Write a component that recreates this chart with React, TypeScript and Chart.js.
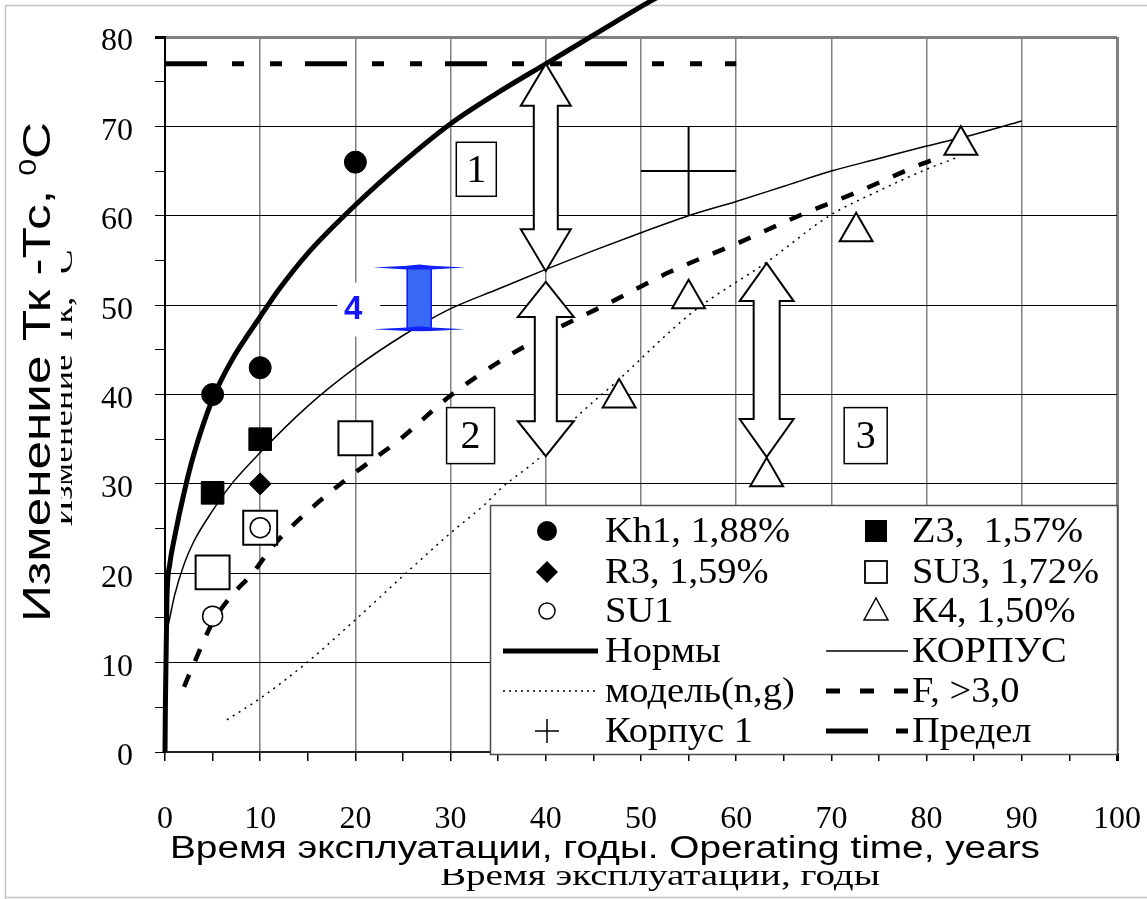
import React, { useEffect, useRef } from 'react';
import { Chart, registerables } from 'chart.js';

Chart.register(...registerables);

const SERIF = '"Liberation Serif", "Times New Roman", serif';
const SANS = '"Liberation Sans", Arial, sans-serif';

// ---- measured points ----
const kh1Years = [5, 10, 20];
const kh1Values = [40, 43, 66];
const z3Years = [5, 10];
const z3Values = [29, 35];
const r3Years = [10];
const r3Values = [30];
const su1Years = [5, 10];
const su1Values = [15.2, 25.1];
const su3Years = [5, 10, 20];
const su3Values = [20.1, 25.1, 35.1];
const k4Years = [47.7, 55, 63.2, 72.6, 83.6];
const k4Values = [39.6, 50.7, 30.8, 58.2, 67.9];

// ---- curves ----
const normYears = [0, 0.05, 0.2, 0.5, 1, 2, 3, 5, 7, 10, 12, 15, 20, 25, 30, 35, 40, 45, 50, 52];
const normValues = [0, 6, 17, 21, 24, 29, 33.2, 39.5, 43.8, 48.7, 51.8, 55.8, 61.2, 66, 70.3, 73.8, 77, 80.2, 83.4, 84.6];

const korpusYears = [0.3, 0.5, 1, 2, 3, 5, 7, 10, 15, 20, 25, 30, 35, 40, 45, 50, 55, 60, 65, 70, 75, 80, 85, 90];
const korpusValues = [14, 15, 17.5, 21, 23.5, 27, 30, 33.5, 38.7, 43, 46.6, 49.6, 51.8, 54, 56.1, 58.1, 60, 61.6, 63.3, 65, 66.4, 67.8, 69.1, 70.6];

const fYears = [2, 3, 5, 7, 9.2, 11.3, 15.2, 19.4, 22.2, 24.7, 29.9, 35.9, 39.7, 41.4, 46.4, 53, 60.3, 66.6, 72.6, 79.5, 81];
const fValues = [7.3, 9.8, 14.5, 17.5, 20, 23, 27.1, 30.8, 33, 35, 39.8, 44.2, 46.5, 47.5, 50.1, 53.7, 57, 60, 62.6, 65.8, 66.4];

const modelYears = [6.5, 10, 14.9, 20, 25.4, 30, 33.8, 35.2, 39.7, 42.2, 47.7, 55.4, 63.2, 69.8, 75, 80, 83.4];
const modelValues = [3.6, 6, 10, 14.8, 20.1, 24.5, 27.9, 29.4, 33.3, 36.4, 41.7, 49.2, 54.8, 60, 62.8, 65.2, 66.6];

const limitYears = [0, 60];
const limitValues = [77, 77];

const korpus1Years = [55];
const korpus1Values = [65];
const korpus1Spread = [5];

// ---- annotations (data coordinates) ----
const arrowYears = [40, 40, 63.2];
const arrowTops = [77, 52.6, 54.7];
const arrowBottoms = [53.8, 33.1, 33.0];

const rangeYear = [26.7];
const rangeTop = [54.2];
const rangeBottom = [47.3];

const boxLabels = ['1', '2', '3'];
const boxYears = [32.7, 32.1, 73.6];
const boxValues = [65.2, 35.4, 35.4];

const xTicks = [0, 10, 20, 30, 40, 50, 60, 70, 80, 90, 100];
const yTicks = [0, 10, 20, 30, 40, 50, 60, 70, 80];

const xy = (xs: number[], ys: number[]) => xs.map((x, i) => ({ x, y: ys[i] }));

function drawArrow(ctx: CanvasRenderingContext2D, x: number, yTop: number, yBot: number, shaftHalf: number, headHalf: number, headLen: number) {
  ctx.save();
  ctx.beginPath();
  ctx.moveTo(x, yTop);
  ctx.lineTo(x + headHalf, yTop + headLen);
  ctx.lineTo(x + shaftHalf, yTop + headLen);
  ctx.lineTo(x + shaftHalf, yBot - headLen);
  ctx.lineTo(x + headHalf, yBot - headLen);
  ctx.lineTo(x, yBot);
  ctx.lineTo(x - headHalf, yBot - headLen);
  ctx.lineTo(x - shaftHalf, yBot - headLen);
  ctx.lineTo(x - shaftHalf, yTop + headLen);
  ctx.lineTo(x - headHalf, yTop + headLen);
  ctx.closePath();
  ctx.fillStyle = '#fff';
  ctx.fill();
  ctx.lineWidth = 2;
  ctx.lineJoin = 'miter';
  ctx.strokeStyle = '#000';
  ctx.stroke();
  ctx.restore();
}

function fitText(ctx: CanvasRenderingContext2D, text: string, cx: number, baseline: number, font: string, width: number) {
  ctx.save();
  ctx.font = font;
  const w = ctx.measureText(text).width;
  ctx.translate(cx, baseline);
  ctx.scale(width / w, 1);
  ctx.textAlign = 'center';
  ctx.textBaseline = 'alphabetic';
  ctx.fillStyle = '#000';
  ctx.fillText(text, 0, 0);
  ctx.restore();
}

function drawStretched(ctx: CanvasRenderingContext2D, text: string, x: number, y: number, font: string, sx: number) {
  ctx.save();
  ctx.font = font;
  ctx.translate(x, y);
  ctx.scale(sx, 1);
  ctx.textAlign = 'left';
  ctx.textBaseline = 'middle';
  ctx.fillStyle = '#000';
  ctx.fillText(text, 0, 0);
  ctx.restore();
}

const decor = {
  id: 'decor',
  beforeDraw(chart: any) {
    const ctx: CanvasRenderingContext2D = chart.ctx;
    ctx.save();
    // outer frame
    ctx.strokeStyle = '#c4c4c4';
    ctx.lineWidth = 1.5;
    ctx.beginPath();
    ctx.moveTo(5.5, 899);
    ctx.lineTo(5.5, 5.5);
    ctx.lineTo(1147, 5.5);
    ctx.moveTo(5.5, 897.5);
    ctx.lineTo(1147, 897.5);
    ctx.stroke();

    // ghost x title
    fitText(ctx, 'Время эксплуатации, годы', 660, 885, `30px ${SERIF}`, 440);
    ctx.fillStyle = '#fff';
    ctx.fillRect(160, 830, 890, 39);
    fitText(ctx, 'Время эксплуатации, годы. Operating time, years', 605, 858, `31px ${SANS}`, 870);

    // ghost y title
    ctx.save();
    ctx.translate(72, 388);
    ctx.rotate(-Math.PI / 2);
    ctx.font = `30px ${SERIF}`;
    const g = 'Изменение Тк, ⁰С';
    const gw = ctx.measureText(g).width;
    ctx.scale(277 / gw, 1);
    ctx.textAlign = 'center';
    ctx.fillStyle = '#000';
    ctx.fillText(g, 0, 0);
    ctx.restore();
    ctx.fillStyle = '#fff';
    ctx.fillRect(8, 110, 53, 525);

    // main y title with superscript
    ctx.save();
    ctx.translate(50, 372);
    ctx.rotate(-Math.PI / 2);
    const parts = [
      { t: 'Изменение Тк -Тс, ', f: `39px ${SANS}`, dy: 0 },
      { t: '0', f: `23px ${SANS}`, dy: -14 },
      { t: 'С', f: `39px ${SANS}`, dy: 0 },
    ];
    let total = 0;
    const widths = parts.map((p) => {
      ctx.font = p.f;
      const w = ctx.measureText(p.t).width;
      total += w;
      return w;
    });
    ctx.scale(500 / total, 1);
    let cur = -total / 2;
    ctx.fillStyle = '#000';
    ctx.textAlign = 'left';
    parts.forEach((p, i) => {
      ctx.font = p.f;
      ctx.fillText(p.t, cur, p.dy);
      cur += widths[i];
    });
    ctx.restore();
    ctx.restore();
  },
  afterDatasetDraw(chart: any, args: any) {
    if (args.index !== 6) return;
    const ctx: CanvasRenderingContext2D = chart.ctx;
    const xs = chart.scales.x;
    const ys = chart.scales.y;
    // arrows
    const heads = [
      [12, 25, 42],
      [11, 28, 35],
      [13, 27, 38],
    ];
    arrowYears.forEach((yr, i) => {
      const [sh, hh, hl] = heads[i];
      drawArrow(ctx, xs.getPixelForValue(yr), ys.getPixelForValue(arrowTops[i]), ys.getPixelForValue(arrowBottoms[i]), sh, hh, hl);
    });

    // numbered boxes
    const boxSizes = [
      [40, 54],
      [48, 56],
      [43, 56],
    ];
    ctx.save();
    boxLabels.forEach((lab, i) => {
      const cx = xs.getPixelForValue(boxYears[i]);
      const cy = ys.getPixelForValue(boxValues[i]);
      const [w, h] = boxSizes[i];
      ctx.fillStyle = '#fff';
      ctx.fillRect(cx - w / 2, cy - h / 2, w, h);
      ctx.strokeStyle = '#000';
      ctx.lineWidth = 1.5;
      ctx.strokeRect(cx - w / 2, cy - h / 2, w, h);
      ctx.fillStyle = '#000';
      ctx.font = `40px ${SERIF}`;
      ctx.textAlign = 'center';
      ctx.textBaseline = 'middle';
      ctx.fillText(lab, cx, cy + 2);
    });
    ctx.restore();

    // blue range marker "4"
    ctx.save();
    const bx = xs.getPixelForValue(rangeYear[0]);
    const bt = ys.getPixelForValue(rangeTop[0]);
    const bb = ys.getPixelForValue(rangeBottom[0]);
    ctx.fillStyle = '#fff';
    ctx.fillRect(bx - 82, bt + 15, 43, 54);
    ctx.fillStyle = '#3a6af5';
    ctx.fillRect(bx - 12, bt, 24, bb - bt);
    ctx.strokeStyle = '#0a14ff';
    ctx.lineWidth = 1.5;
    ctx.strokeRect(bx - 12, bt, 24, bb - bt);
    ctx.fillStyle = '#1020ff';
    [bt, bb].forEach((ye) => {
      ctx.beginPath();
      ctx.moveTo(bx - 46, ye);
      ctx.lineTo(bx - 12, ye - 1.8);
      ctx.lineTo(bx, ye - 3);
      ctx.lineTo(bx + 12, ye - 1.8);
      ctx.lineTo(bx + 46, ye);
      ctx.lineTo(bx + 12, ye + 1.8);
      ctx.lineTo(bx, ye + 2);
      ctx.lineTo(bx - 12, ye + 1.8);
      ctx.closePath();
      ctx.fill();
    });
    ctx.fillStyle = '#1414ff';
    ctx.font = `bold 33px ${SANS}`;
    ctx.textAlign = 'center';
    ctx.textBaseline = 'middle';
    ctx.fillText('4', bx - 66, bb - 19);
    ctx.restore();
  },
  afterDatasetsDraw(chart: any) {
    const ctx: CanvasRenderingContext2D = chart.ctx;
    ctx.save();
    // legend box
    const L = 490, T = 505, R = 1118, B = 755;
    ctx.fillStyle = '#fff';
    ctx.fillRect(L, T, R - L, B - T);
    ctx.strokeStyle = '#4a4a4a';
    ctx.lineWidth = 1.5;
    ctx.strokeRect(L + 0.5, T + 0.5, R - L - 1, B - T - 1);

    const rows = [531, 572, 611, 651, 691, 731];
    const lx = 547, rx = 876;
    ctx.fillStyle = '#000';
    ctx.strokeStyle = '#000';
    // Kh1
    ctx.beginPath();
    ctx.arc(lx, rows[0], 10, 0, Math.PI * 2);
    ctx.fill();
    // R3
    ctx.beginPath();
    ctx.moveTo(lx - 11, rows[1]);
    ctx.lineTo(lx, rows[1] - 11);
    ctx.lineTo(lx + 11, rows[1]);
    ctx.lineTo(lx, rows[1] + 11);
    ctx.closePath();
    ctx.fill();
    // SU1
    ctx.lineWidth = 1.5;
    ctx.beginPath();
    ctx.arc(lx, rows[2], 8, 0, Math.PI * 2);
    ctx.stroke();
    // Нормы
    ctx.lineWidth = 5;
    ctx.beginPath();
    ctx.moveTo(503, rows[3]);
    ctx.lineTo(598, rows[3]);
    ctx.stroke();
    // модель
    ctx.lineWidth = 1.5;
    ctx.setLineDash([2, 4]);
    ctx.beginPath();
    ctx.moveTo(503, rows[4]);
    ctx.lineTo(598, rows[4]);
    ctx.stroke();
    ctx.setLineDash([]);
    // Корпус 1
    ctx.lineWidth = 1.5;
    ctx.beginPath();
    ctx.moveTo(lx - 12, rows[5]);
    ctx.lineTo(lx + 12, rows[5]);
    ctx.moveTo(lx, rows[5] - 12);
    ctx.lineTo(lx, rows[5] + 12);
    ctx.stroke();
    // Z3
    ctx.fillRect(rx - 11, rows[0] - 11, 22, 22);
    // SU3
    ctx.lineWidth = 1.8;
    ctx.strokeRect(rx - 11, rows[1] - 11, 22, 22);
    // K4
    ctx.lineWidth = 1.5;
    ctx.beginPath();
    ctx.moveTo(rx, rows[2] - 13);
    ctx.lineTo(rx + 12, rows[2] + 9);
    ctx.lineTo(rx - 12, rows[2] + 9);
    ctx.closePath();
    ctx.stroke();
    // КОРПУС
    ctx.lineWidth = 1.5;
    ctx.beginPath();
    ctx.moveTo(826, rows[3]);
    ctx.lineTo(908, rows[3]);
    ctx.stroke();
    // F
    ctx.lineWidth = 5;
    ctx.setLineDash([14, 20]);
    ctx.beginPath();
    ctx.moveTo(826, rows[4]);
    ctx.lineTo(908, rows[4]);
    ctx.stroke();
    ctx.setLineDash([]);
    // Предел
    ctx.beginPath();
    ctx.moveTo(826, rows[5]);
    ctx.lineTo(868, rows[5]);
    ctx.moveTo(896, rows[5]);
    ctx.lineTo(908, rows[5]);
    ctx.stroke();

    const font = `35px ${SERIF}`;
    const left = ['Kh1, 1,88%', 'R3, 1,59%', 'SU1', 'Нормы', 'модель(n,g)', 'Корпус 1'];
    const right = ['Z3,  1,57%', 'SU3, 1,72%', 'К4, 1,50%', 'КОРПУС', 'F, >3,0', 'Предел'];
    left.forEach((t, i) => drawStretched(ctx, t, 605, rows[i] + 2, font, 1.1));
    right.forEach((t, i) => drawStretched(ctx, t, 912, rows[i] + 2, font, 1.1));
    ctx.restore();
  },
};

export default function App() {
  const ref = useRef<HTMLCanvasElement | null>(null);
  useEffect(() => {
    if (!ref.current) return;
    const lineDs = (label: string, xs: number[], ys: number[], width: number, dash: number[], extra: any = {}) => ({
      type: 'scatter',
      label,
      data: xy(xs, ys),
      showLine: true,
      borderColor: '#000',
      backgroundColor: '#000',
      borderWidth: width,
      borderDash: dash,
      pointRadius: 0,
      cubicInterpolationMode: 'monotone',
      ...extra,
    });
    const ptDs = (label: string, xs: number[], ys: number[], style: string, r: number, fill: string, bw: number) => ({
      type: 'scatter',
      label,
      data: xy(xs, ys),
      showLine: false,
      pointStyle: style,
      pointRadius: r,
      pointBackgroundColor: fill,
      pointBorderColor: '#000',
      pointBorderWidth: bw,
      clip: false,
    });
    const cx = korpus1Years[0], cy = korpus1Values[0], sp = korpus1Spread[0];
    const chart = new Chart(ref.current, {
      type: 'scatter',
      data: {
        datasets: [
          ptDs('Kh1, 1,88%', kh1Years, kh1Values, 'circle', 11, '#000', 1),
          ptDs('Z3,  1,57%', z3Years, z3Values, 'rect', 16, '#000', 1),
          ptDs('R3, 1,59%', r3Years, r3Values, 'rectRot', 11, '#000', 1),
          ptDs('SU1', su1Years, su1Values, 'circle', 10, '#fff', 1.5),
          ptDs('SU3, 1,72%', su3Years, su3Values, 'rect', 24, '#fff', 2),
          ptDs('К4, 1,50%', k4Years, k4Values, 'triangle', 19, '#fff', 2),
          lineDs('Нормы', normYears, normValues, 5, [], { clip: false }),
          lineDs('КОРПУС', korpusYears, korpusValues, 1.5, []),
          lineDs('F, >3,0', fYears, fValues, 4.5, [13, 15]),
          lineDs('модель(n,g)', modelYears, modelValues, 1.5, [2, 5]),
          lineDs('Предел', limitYears, limitValues, 5, [42, 25, 12, 26, 12, 23], { cubicInterpolationMode: 'default' }),
          lineDs('Корпус 1', [cx - sp, cx + sp], [cy, cy], 2, [], { cubicInterpolationMode: 'default' }),
          lineDs('Корпус 1 ', [cx, cx], [cy - sp, cy + sp], 2, [], { cubicInterpolationMode: 'default' }),
        ] as any,
      },
      options: {
        animation: false,
        responsive: false,
        events: [],
        layout: { padding: { top: 37, right: 30, left: 0, bottom: 0 } },
        plugins: {
          legend: { display: false },
          tooltip: { enabled: false },
          title: { display: false },
        },
        scales: {
          x: {
            type: 'linear',
            min: 0,
            max: 100,
            afterFit: (s: any) => {
              s.height = 147;
              s.paddingLeft = 0;
              s.paddingRight = 0;
            },
            afterBuildTicks: (s: any) => {
              const t: any[] = [];
              xTicks.forEach((v) => {
                t.push({ value: v });
                if (v < 100) t.push({ value: v + 5 });
              });
              s.ticks = t;
            },
            ticks: {
              autoSkip: false,
              maxRotation: 0,
              callback: (v: any) => (xTicks.includes(Number(v)) ? String(v) : ''),
              font: { family: SERIF, size: 32 },
              color: '#000',
              padding: 39,
            },
            grid: {
              color: (c: any) => (c.tick && c.tick.value % 10 === 0 ? '#808080' : 'rgba(0,0,0,0)'),
              lineWidth: (c: any) => (c.tick && c.tick.value === 100 ? 3 : 1.5),
              tickColor: '#000',
              tickLength: 9,
              drawTicks: true,
            },
            border: { color: '#222', width: 2 },
          },
          y: {
            type: 'linear',
            min: 0,
            max: 80,
            afterFit: (s: any) => {
              s.width = 165;
              s.paddingTop = 0;
              s.paddingBottom = 0;
            },
            afterBuildTicks: (s: any) => {
              const t: any[] = [];
              yTicks.forEach((v) => {
                t.push({ value: v });
                if (v < 80) t.push({ value: v + 5 });
              });
              s.ticks = t;
            },
            ticks: {
              autoSkip: false,
              callback: (v: any) => (yTicks.includes(Number(v)) ? String(v) : ''),
              font: { family: SERIF, size: 32 },
              color: '#000',
              padding: 22,
              labelOffset: 5,
            },
            grid: {
              color: (c: any) =>
                c.tick && c.tick.value % 10 === 0 ? (c.tick.value === 80 ? '#808080' : '#000') : 'rgba(0,0,0,0)',
              lineWidth: (c: any) => (c.tick && c.tick.value === 80 ? 3 : 1),
              tickColor: '#000',
              tickLength: 10,
              drawTicks: true,
            },
            border: { color: '#000', width: 2 },
          },
        },
      },
      plugins: [decor as any],
    });
    return () => chart.destroy();
  }, []);
  return (
    <div style={{ position: 'fixed', left: 0, top: 0, width: 1147, height: 899, background: '#fff' }}>
      <canvas ref={ref} width={1147} height={899} style={{ display: 'block' }} />
    </div>
  );
}
